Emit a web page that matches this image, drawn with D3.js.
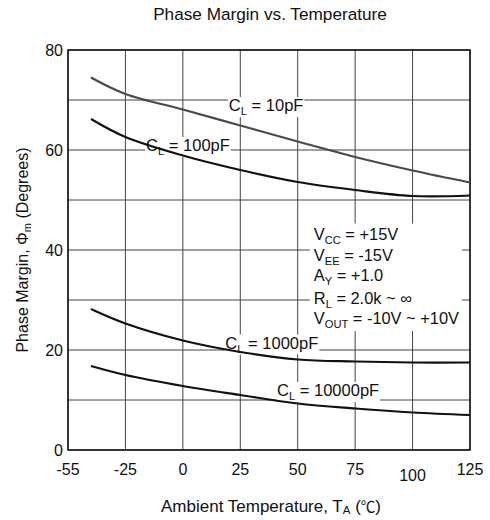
<!DOCTYPE html>
<html><head><meta charset="utf-8">
<script src="https://cdn.jsdelivr.net/npm/d3@7/dist/d3.min.js"></script>
<style>body{margin:0;background:#fff}svg{display:block}text{font-family:"Liberation Sans",Arial,sans-serif;fill:#111}</style>
</head><body><svg id="c" width="490" height="520"></svg>
<script>
const xTicks = [-55, -25, 0, 25, 50, 75, 100, 125];
const yTicks = [0, 20, 40, 60, 80];
const yGrid = [0, 10, 20, 30, 40, 50, 60, 70, 80];
const temps = [-43, -25, 0, 25, 50, 75, 100, 125];
const cl10 = [74.5, 71.2, 68.1, 64.9, 61.7, 58.6, 55.9, 53.5];
const cl100 = [66.2, 62.6, 58.9, 56.0, 53.6, 52.0, 50.8, 50.9];
const cl1000 = [28.2, 25.3, 21.9, 19.6, 18.1, 17.7, 17.5, 17.5];
const cl10000 = [16.8, 15.0, 12.8, 11.0, 9.3, 8.3, 7.5, 7.0];
const seriesNames = ["10pF", "100pF", "1000pF", "10000pF"];
const seriesColors = ["#4a4a4a", "#111", "#111", "#111"];

const L = 68, R = 470, T = 50, B = 450;
const svg = d3.select("#c");
const step = (R - L) / (xTicks.length - 1);
const x = d3.scaleLinear().domain(xTicks).range(xTicks.map((d, i) => L + i * step));
const y = d3.scaleLinear().domain([0, 80]).range([B, T]);

const g = svg.append("g");
g.selectAll(".vg").data(xTicks).join("line")
  .attr("x1", d => x(d)).attr("x2", d => x(d)).attr("y1", T).attr("y2", B)
  .attr("stroke", "#444").attr("stroke-width", 1);
g.selectAll(".hg").data(yGrid).join("line")
  .attr("x1", L).attr("x2", R).attr("y1", d => y(d)).attr("y2", d => y(d))
  .attr("stroke", "#444").attr("stroke-width", 1);
g.append("rect").attr("x", L).attr("y", T).attr("width", R - L).attr("height", B - T)
  .attr("fill", "none").attr("stroke", "#111").attr("stroke-width", 1.5);

svg.selectAll(".yt").data(yTicks).join("text")
  .attr("x", L - 5).attr("y", d => y(d) + 5.5).attr("text-anchor", "end")
  .attr("font-size", 16).text(d => d);
svg.selectAll(".xt").data(xTicks).join("text")
  .attr("x", d => x(d)).attr("y", d => d === 100 ? 481 : 475).attr("text-anchor", "middle")
  .attr("font-size", 16).text(d => d);

function label(px, py, parts, size) {
  const t = svg.append("text").attr("x", px).attr("y", py).attr("font-size", size);
  parts.forEach(p => {
    const s = t.append("tspan").text(p[0]);
    if (p[1] === "sub") s.attr("font-size", size * 0.68).attr("dy", 4);
    else if (p[1] === "back") s.attr("dy", -4);
  });
  return t;
}
const labelLayer = svg.append("g");
const labels = [];
function addLabel(px, py, parts, size) { labels.push(label(px, py, parts, size)); }
addLabel(x(20), y(67.8), [["C"], ["L", "sub"], [" = 10pF", "back"]], 16.5);
addLabel(x(-16), y(59.8), [["C"], ["L", "sub"], [" = 100pF", "back"]], 16.5);
addLabel(x(18.5), y(20.3), [["C"], ["L", "sub"], [" = 1000pF", "back"]], 16.5);
addLabel(x(41), y(10.8), [["C"], ["L", "sub"], [" = 10000pF", "back"]], 16.5);

const condX = x(57);
const cond = [
  [["V"], ["CC", "sub"], [" = +15V", "back"]],
  [["V"], ["EE", "sub"], [" = -15V", "back"]],
  [["A"], ["Y", "sub"], [" = +1.0", "back"]],
  [["R"], ["L", "sub"], [" = 2.0k ~ \u221e", "back"]],
  [["V"], ["OUT", "sub"], [" = -10V ~ +10V", "back"]]
];
const condBase = [239.5, 260.5, 281, 304, 324];
const condNodes = cond.map((c, i) => label(condX, condBase[i], c, 16.4));
const bbs = condNodes.map(n => n.node().getBBox());
const bx0 = d3.min(bbs, b => b.x) - 4, bx1 = d3.max(bbs, b => b.x + b.width) + 3;
const by0 = d3.min(bbs, b => b.y) - 1, by1 = d3.max(bbs, b => b.y + b.height) + 1;
labelLayer.append("rect").attr("x", bx0).attr("y", by0).attr("width", bx1 - bx0).attr("height", by1 - by0).attr("fill", "#fff");
labels.forEach(t => {
  const b = t.node().getBBox();
  labelLayer.append("rect").attr("x", b.x - 1).attr("y", b.y + 1).attr("width", b.width + 2).attr("height", b.height - 1).attr("fill", "#fff");
});

const allSeries = [cl10, cl100, cl1000, cl10000];
const line = d3.line().x((d, i) => x(temps[i])).y(d => y(d)).curve(d3.curveCatmullRom.alpha(0.5));
svg.append("g").selectAll("path").data(allSeries).join("path")
  .attr("d", d => line(d)).attr("fill", "none")
  .attr("stroke", (d, i) => seriesColors[i]).attr("stroke-width", 2.2);

svg.append("text").attr("x", 270).attr("y", 20).attr("text-anchor", "middle").attr("font-size", 17.2).text("Phase Margin vs. Temperature");

const xt = svg.append("text").attr("x", 0).attr("y", 512).attr("font-size", 17);
xt.append("tspan").text("Ambient Temperature, T");
xt.append("tspan").text("A").attr("font-size", 11.5).attr("dy", 2);
xt.append("tspan").text(" (").attr("dy", -2);
xt.append("tspan").text("\u2103").attr("font-family", "Noto Sans CJK SC").attr("font-size", 14.5);
xt.append("tspan").text(")");
const xb = xt.node().getBBox();
xt.attr("x", 271 - xb.width / 2);

const yt = svg.append("text").attr("x", 0).attr("y", 0).attr("font-size", 16);
yt.append("tspan").text("Phase Margin, \u03a6");
yt.append("tspan").text("m").attr("font-size", 11).attr("dy", 3);
yt.append("tspan").text(" (Degrees)").attr("dy", -3);
const yb = yt.node().getBBox();
yt.attr("transform", `translate(28,${250 + yb.width / 2}) rotate(-90)`);
</script></body></html>
